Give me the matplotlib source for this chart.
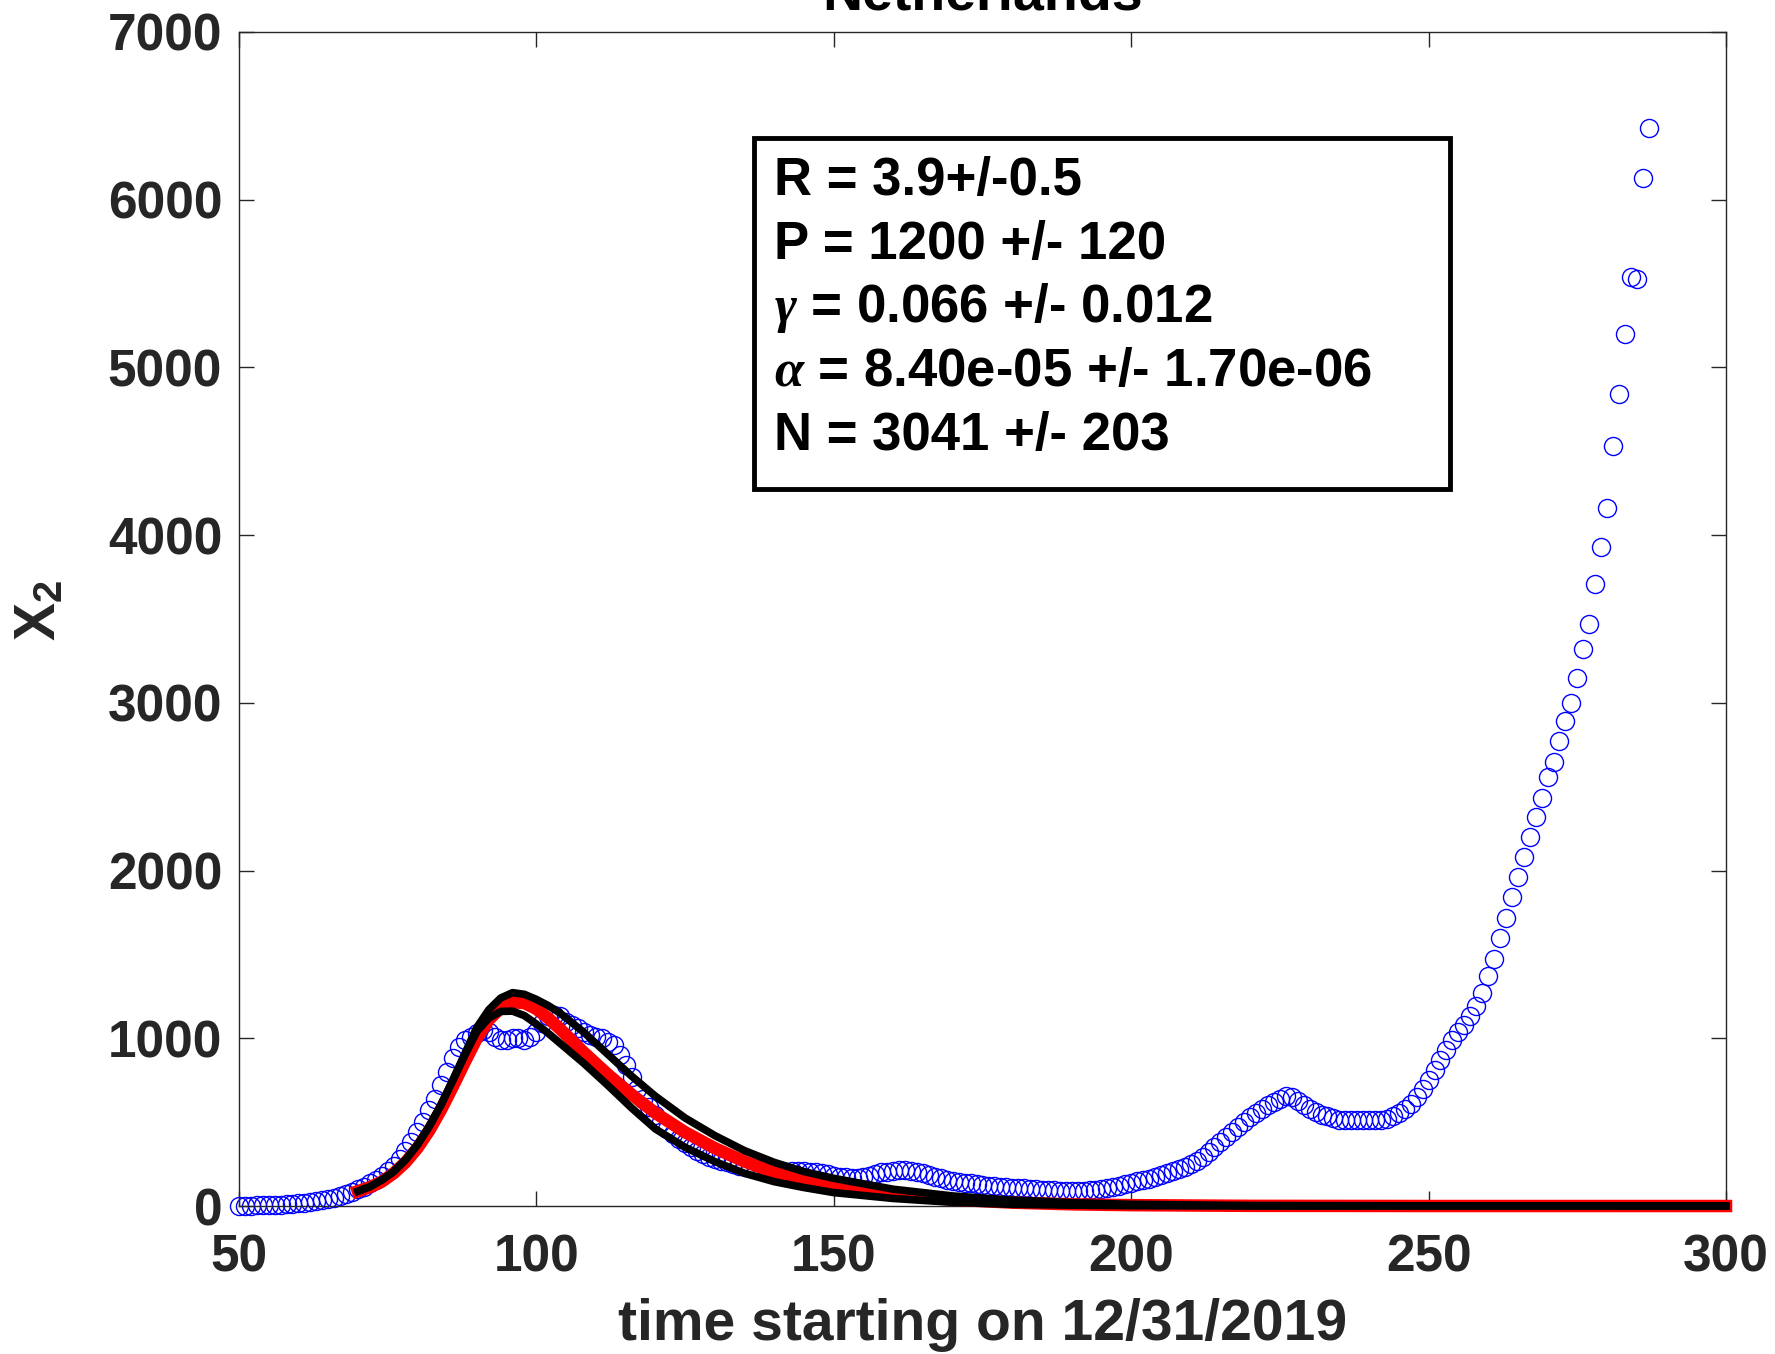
import matplotlib
matplotlib.use('Agg')
import matplotlib.pyplot as plt
import numpy as np
from matplotlib.patches import Rectangle

# daily counts, day 50 .. 287 (days since 12/31/2019)
days = np.arange(50, 288)
cases = [
    2, 3, 3, 4, 5, 6, 7, 8, 10, 12,
    15, 18, 22, 27, 33, 40, 50, 60, 72, 85,
    100, 115, 135, 155, 180, 210, 240, 280, 330, 380,
    440, 500, 570, 640, 720, 800, 880, 950, 990, 1010,
    1030, 1050, 1040, 1010, 990, 990, 1000, 1000, 990, 1010,
    1040, 1090, 1130, 1140, 1130, 1100, 1080, 1060, 1040, 1020,
    1010, 1000, 980, 960, 900, 840, 770, 700, 640, 590,
    540, 500, 460, 430, 400, 375, 350, 330, 310, 295,
    280, 270, 260, 250, 240, 230, 225, 220, 215, 210,
    205, 205, 205, 210, 210, 210, 205, 200, 195, 190,
    180, 175, 170, 165, 165, 170, 180, 190, 200, 205,
    210, 215, 215, 210, 205, 195, 185, 175, 165, 155,
    150, 145, 140, 135, 130, 125, 120, 118, 115, 112,
    110, 108, 105, 102, 100, 98, 96, 94, 92, 90,
    90, 90, 92, 95, 98, 102, 108, 115, 122, 130,
    140, 148, 155, 163, 172, 182, 195, 208, 220, 235,
    252, 270, 295, 320, 350, 380, 410, 440, 470, 500,
    530, 555, 580, 600, 620, 640, 655, 650, 625, 600,
    580, 560, 545, 535, 525, 515, 510, 510, 510, 510,
    510, 510, 515, 520, 535, 555, 580, 610, 650, 700,
    750, 810, 870, 930, 990, 1040, 1080, 1130, 1190, 1270,
    1370, 1470, 1600, 1720, 1840, 1960, 2080, 2200, 2320, 2430,
    2560, 2650, 2770, 2890, 3000, 3150, 3320, 3470, 3710, 3930,
    4160, 4530, 4840, 5200, 5540, 5530, 6130, 6430,
]

# model fit (red) and its bounds (black)
fit_days = [70, 72, 74, 76, 78, 80, 82, 84, 86, 88, 90, 92, 94, 96, 98, 100,
            102, 104, 108, 112, 116, 120, 125, 130, 135, 140, 145, 150, 160,
            170, 180, 190, 200, 220, 250, 300]
fit_mid = [88, 112, 145, 195, 260, 345, 450, 575, 715, 860, 1000, 1110, 1180,
           1215, 1210, 1175, 1120, 1055, 915, 785, 665, 555, 440, 345, 265,
           200, 155, 118, 68, 38, 20, 10, 5, 1, 0, 0]
fit_hi = [88, 115, 155, 205, 275, 365, 475, 605, 755, 910, 1065, 1170, 1240,
          1272, 1262, 1232, 1195, 1150, 1035, 905, 775, 655, 525, 420, 330,
          260, 205, 165, 100, 60, 35, 20, 10, 3, 1, 0]
fit_lo = [88, 115, 155, 205, 275, 365, 475, 605, 750, 900, 1040, 1120, 1160,
          1162, 1135, 1085, 1030, 970, 850, 720, 585, 460, 350, 265, 195,
          145, 110, 80, 45, 22, 10, 5, 2, 0, 0, 0]

box_lines = [
    'R = 3.9+/-0.5',
    'P = 1200 +/- 120',
    r'$\gamma$ = 0.066 +/- 0.012',
    r'$\alpha$ = 8.40e-05 +/- 1.70e-06',
    'N = 3041 +/- 203',
]

plt.rcParams['font.family'] = ['Liberation Sans', 'DejaVu Sans']
plt.rcParams['font.weight'] = 'bold'
plt.rcParams['mathtext.fontset'] = 'custom'
plt.rcParams['mathtext.rm'] = 'Liberation Sans:bold'
plt.rcParams['mathtext.bf'] = 'Liberation Sans:bold'
plt.rcParams['mathtext.it'] = 'Liberation Serif:italic'

fig = plt.figure(figsize=(17.75, 13.54), dpi=100)
ax = fig.add_axes([0.1346, 0.1093, 0.8378, 0.8671])

ax.plot(days, cases, 'o', mfc='none', mec='blue', ms=13, mew=1.0,
        clip_on=False, zorder=2)
ax.plot(fit_days, fit_mid, color='red', lw=9, clip_on=False, zorder=3)
ax.plot(fit_days, fit_hi, color='black', lw=5.5, clip_on=False, zorder=4)
ax.plot(fit_days, fit_lo, color='black', lw=5.5, clip_on=False, zorder=4)

ax.set_xlim(50, 300)
ax.set_ylim(0, 7000)
ax.set_xticks(range(50, 301, 50))
ax.set_yticks(range(0, 7001, 1000))
ax.tick_params(direction='in', top=True, right=True, length=11, width=1,
               colors='#262626', labelsize=37)
ax.tick_params(axis='x', pad=20)
ax.tick_params(axis='y', pad=12)
for s in ax.spines.values():
    s.set_color('#262626')
    s.set_linewidth(1.0)

ax.set_xlabel('time starting on 12/31/2019', fontsize=41, fontweight='bold',
              color='#262626')
ax.xaxis.set_label_coords(0.5, -0.1014)
ax.xaxis.label.set_va('center')
ax.set_ylabel(r'X$_\mathrm{2}$', fontsize=41, fontweight='bold', color='#262626')
ax.yaxis.set_label_coords(-0.1338, 0.507)
ax.yaxis.label.set_va('center')

ax.set_title('Netherlands', fontsize=40, fontweight='bold', pad=16)

box = Rectangle((0.3463, 0.6107), 0.4681, 0.299, transform=ax.transAxes,
                facecolor='white', edgecolor='black', lw=3.5, zorder=5)
ax.add_patch(box)
line_y = [0.8731, 0.8186, 0.7649, 0.7104, 0.6559]
for txt, yy in zip(box_lines, line_y):
    ax.text(0.3598, yy, txt, transform=ax.transAxes, fontsize=38,
            fontweight='bold', va='center', ha='left', zorder=6)

fig.savefig('out.png', dpi=100)
